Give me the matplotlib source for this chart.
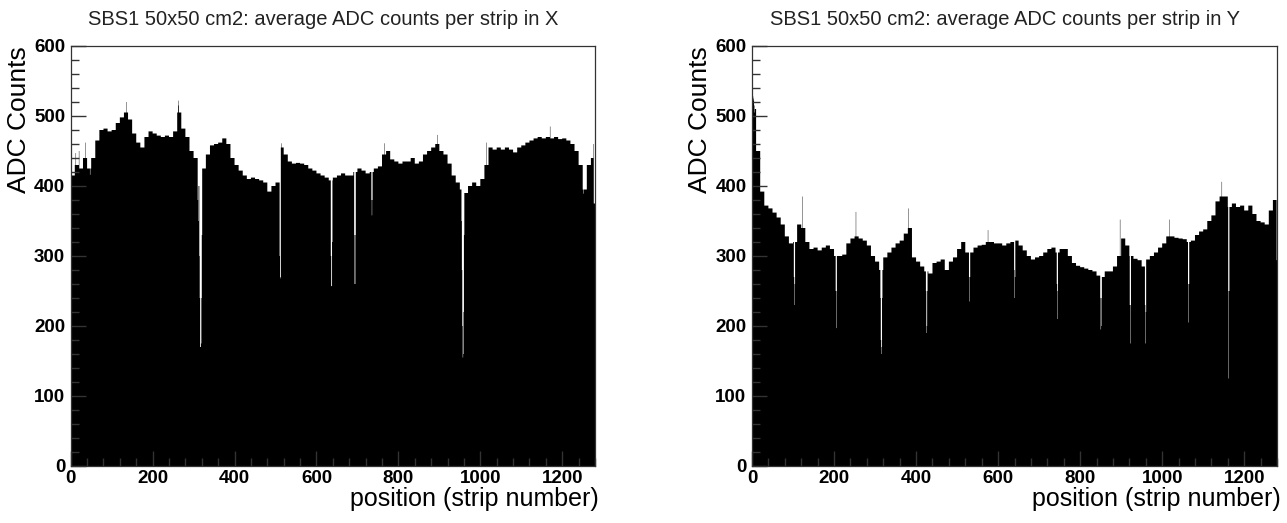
"""
SBS1 50x50 cm2 GEM: mittlere ADC-Counts pro Streifen in X und Y (ROOT-Stil Nachbau).
"""
import numpy as np
import matplotlib
matplotlib.use("Agg")
import matplotlib.pyplot as plt
from matplotlib import font_manager as fm
from matplotlib.ticker import MultipleLocator

N_STRIPS = 1280
GROUP = 10  # levels below are read per group of 10 strips

# --- X plane: level of every 10-strip group (strip 0-9, 10-19, ...)
x_levels = [
    415, 430, 425, 440, 425, 440, 465, 480, 482, 478,
    480, 490, 498, 505, 495, 475, 462, 455, 470, 478,
    475, 472, 470, 472, 470, 478, 505, 482, 470, 450,
    440, 400, 425, 445, 458, 460, 462, 468, 460, 440,
    430, 422, 415, 410, 412, 410, 408, 405, 392, 400,
    405, 455, 445, 435, 432, 433, 432, 430, 425, 422,
    418, 415, 412, 408, 412, 415, 418, 415, 415, 420,
    425, 422, 418, 420, 425, 428, 445, 450, 438, 435,
    432, 435, 435, 440, 432, 435, 445, 450, 455, 460,
    450, 445, 432, 415, 405, 395, 390, 400, 405, 400,
    410, 430, 455, 452, 455, 452, 455, 452, 448, 455,
    458, 462, 465, 468, 470, 468, 470, 468, 470, 467,
    468, 465, 460, 450, 430, 395, 430, 440,
]
# single strips that stick out (dead/weak strips and spikes)
x_odd_strips = [0, 1, 12, 20, 35, 47, 135, 262, 263,
                310, 312, 314, 315, 316, 317, 318, 319, 320,
                510, 511, 512, 514, 635, 636, 637, 638, 692, 693, 694, 695,
                734, 735, 736, 766, 895,
                954, 955, 956, 957, 958, 959, 960, 1015, 1170, 1252,
                1276, 1277, 1278, 1279]
x_odd_values = [330, 400, 447, 450, 462, 416, 520, 522, 515,
                380, 350, 300, 240, 170, 170, 175, 240, 330,
                300, 268, 270, 461, 300, 257, 257, 320, 330, 260, 260, 330,
                380, 358, 380, 461, 473,
                350, 280, 200, 155, 160, 220, 330, 462, 485, 389,
                460, 375, 375, 375]

# --- Y plane
y_levels = [
    510, 450, 392, 372, 368, 362, 355, 345, 328, 318,
    320, 345, 340, 320, 310, 312, 308, 312, 315, 310,
    300, 300, 302, 318, 325, 328, 325, 322, 315, 300,
    292, 280, 298, 305, 312, 318, 322, 332, 340, 298,
    292, 285, 278, 275, 290, 292, 295, 280, 292, 298,
    310, 320, 305, 305, 312, 315, 316, 320, 320, 318,
    318, 315, 318, 320, 322, 315, 308, 300, 295, 298,
    300, 305, 310, 312, 305, 310, 310, 300, 290, 286,
    284, 282, 280, 278, 272, 270, 278, 278, 285, 300,
    325, 315, 300, 296, 294, 285, 295, 300, 305, 312,
    318, 328, 328, 326, 325, 324, 320, 322, 330, 335,
    338, 350, 358, 378, 385, 385, 370, 375, 370, 372,
    365, 372, 360, 350, 348, 345, 365, 380,
]
y_odd_strips = [0, 2, 3, 4, 5, 6, 102, 103, 104, 122,
                204, 205, 206, 253, 313, 314, 315, 316, 317, 381,
                424, 425, 426, 427, 529, 530, 531, 575, 639, 640, 641,
                743, 744, 745, 849, 850, 851, 852, 897,
                921, 922, 923, 958, 959, 960, 1018, 1063, 1064, 1065,
                1145, 1161, 1162, 1163, 1279]
y_odd_values = [440, 528, 525, 522, 515, 505, 270, 230, 260, 385,
                250, 197, 250, 363, 240, 180, 160, 170, 240, 368,
                250, 190, 200, 250, 270, 235, 270, 337, 280, 240, 270,
                260, 210, 250, 240, 195, 200, 240, 352,
                230, 175, 230, 230, 175, 220, 352, 260, 205, 260,
                406, 250, 125, 250, 294]

TITLES = [
    "SBS1 50x50 cm2: average ADC counts per strip in X",
    "SBS1 50x50 cm2: average ADC counts per strip in Y",
]

# condensed bold digits like ROOT's default axis font, if a narrow face exists
_names = {f.name for f in fm.fontManager.ttflist}
TICK_FONT = [n for n in ["DejaVu Sans Condensed", "Liberation Sans Narrow"] if n in _names]
TICK_FONT += ["Liberation Sans", "DejaVu Sans"]
TICK_SIZE = 15 if TICK_FONT[0] != "Liberation Sans" else 13.5
TEXT_FONT = ["Liberation Sans", "DejaVu Sans"]


def build(levels, strips, values):
    counts = np.repeat(np.asarray(levels, dtype=float), GROUP)
    counts[strips] = values
    return counts


def draw(ax, counts):
    edges = np.arange(N_STRIPS + 1)
    ax.stairs(counts, edges, fill=True, color="black", linewidth=0)
    ax.set_xlim(0, N_STRIPS)
    ax.set_ylim(0, 600)
    ax.xaxis.set_major_locator(MultipleLocator(200))
    ax.xaxis.set_minor_locator(MultipleLocator(40))
    ax.yaxis.set_major_locator(MultipleLocator(100))
    ax.yaxis.set_minor_locator(MultipleLocator(20))
    ax.tick_params(which="both", direction="in", top=False, right=False,
                   width=1.0, color="#333333")
    ax.tick_params(axis="y", pad=4)
    ax.tick_params(axis="x", pad=3)
    ax.tick_params(which="major", length=11)
    ax.tick_params(which="minor", length=5.5)
    for lbl in ax.get_xticklabels() + ax.get_yticklabels():
        lbl.set_fontfamily(TICK_FONT)
        lbl.set_fontweight("bold")
        lbl.set_fontsize(TICK_SIZE)
    # ROOT puts the y "0" a little above the corner
    ax.get_yticklabels()[0].set_verticalalignment("bottom")
    for sp in ax.spines.values():
        sp.set_linewidth(0.9)
        sp.set_color("#333333")
    ax.set_ylabel("ADC Counts", fontsize=19, family=TEXT_FONT, loc="top")
    ax.set_xlabel("position (strip number)", fontsize=18, family=TEXT_FONT, loc="right")
    ax.yaxis.set_label_coords(-0.076, 1.0)
    ax.xaxis.set_label_coords(1.008, -0.05)


def main():
    fig = plt.figure(figsize=(12.87, 5.23), dpi=100)
    W, H = 1287.0, 523.0
    ax_x = fig.add_axes([70.7 / W, 1 - 466 / H, 524.3 / W, 420 / H])
    ax_y = fig.add_axes([752 / W, 1 - 466 / H, 525 / W, 420 / H])

    draw(ax_x, build(x_levels, x_odd_strips, x_odd_values))
    draw(ax_y, build(y_levels, y_odd_strips, y_odd_values))

    fig.text(88 / W, 1 - 25 / H, TITLES[0], fontsize=14.5, family=TEXT_FONT,
             va="baseline", color="#222222")
    fig.text(770 / W, 1 - 25 / H, TITLES[1], fontsize=14.5, family=TEXT_FONT,
             va="baseline", color="#222222")

    fig.savefig("out.png", dpi=100, facecolor="white")
    plt.close(fig)


if __name__ == "__main__":
    main()
